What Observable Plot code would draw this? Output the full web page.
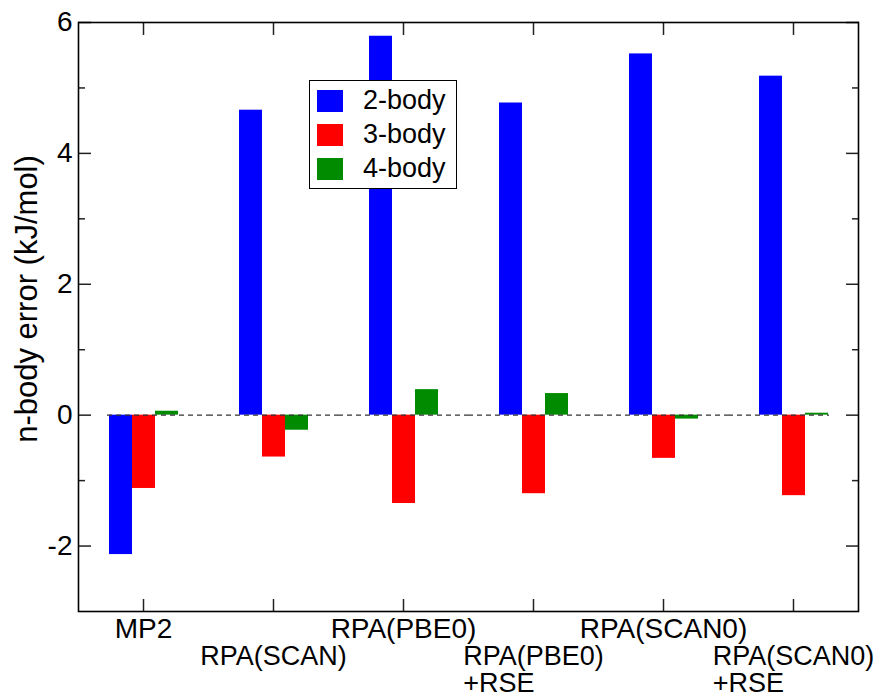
<!DOCTYPE html>
<html>
<head>
<meta charset="utf-8">
<script src="https://cdn.jsdelivr.net/npm/d3@7"></script>
<script src="https://cdn.jsdelivr.net/npm/@observablehq/plot@0.6"></script>
<style>
  html, body { margin: 0; padding: 0; background: #fff; }
  #wrap { position: relative; width: 881px; height: 697px; font-family: "Liberation Sans", Arial, Helvetica, sans-serif; }
  #wrap svg { display: block; }
  #legend { position: absolute; left: 309px; top: 80px; width: 146px; height: 107px; border: 1.5px solid #000; background: #fff; }
  #legend .row { position: absolute; left: 0; height: 22px; }
  #legend .sw { position: absolute; left: 7px; top: 0; width: 26px; height: 22px; }
  #legend .lab { position: absolute; left: 53px; top: -5px; font-size: 27px; line-height: 30px; white-space: nowrap; color: #000; }
</style>
</head>
<body>
<div id="wrap"></div>
<script>
// ---- data ----
const categories = ["MP2", "RPA(SCAN)", "RPA(PBE0)", "RPA(PBE0)\n+RSE", "RPA(SCAN0)", "RPA(SCAN0)\n+RSE"];
const series = ["2-body", "3-body", "4-body"];
const twoBody   = [-2.13, 4.66, 5.79, 4.77, 5.52, 5.18];
const threeBody = [-1.12, -0.64, -1.35, -1.20, -0.66, -1.23];
const fourBody  = [0.06, -0.23, 0.39, 0.33, -0.06, 0.03];
const seriesColors = ["#0000ff", "#ff0000", "#008b00"];
const majorTicks = [-2, 0, 2, 4, 6];
const minorTicks = [-1, 1, 3, 5];
const yLabel = "n-body error (kJ/mol)";

const valuesBySeries = [twoBody, threeBody, fourBody];
const table = [];
categories.forEach((c, i) => {
  series.forEach((s, j) => table.push({category: c, series: s, value: valuesBySeries[j][i]}));
});

const font = "'Liberation Sans', Arial, Helvetica, sans-serif";
const tickStroke = "#222";
const dash = {stroke: "#333", strokeWidth: 1.3, strokeDasharray: "5,4"};
const first = categories[0], last = categories[categories.length - 1];
const upperRow = new Set(categories.filter((d, i) => i % 2 === 0));

const chart = Plot.plot({
  width: 881,
  height: 697,
  marginLeft: 78,
  marginRight: 23,
  marginTop: 22,
  marginBottom: 86,
  style: {fontFamily: font, background: "#fff", color: "#000", overflow: "visible"},
  fx: {domain: categories, padding: 0, label: null},
  x: {domain: series, paddingInner: 0, paddingOuter: 1.21, axis: null},
  y: {domain: [-3, 6]},
  color: {domain: series, range: seriesColors},
  marks: [
    Plot.barY(table, {fx: "category", x: "series", y: "value", fill: "series"}),
    // dashed zero line, from the first bar to the last bar
    Plot.ruleY(categories.slice(1, -1), {fx: d => d, y: () => 0, ...dash}),
    Plot.ruleY([first], {fx: d => d, y: () => 0, insetLeft: 29, ...dash}),
    Plot.ruleY([last], {fx: d => d, y: () => 0, insetRight: 29, ...dash}),
    // left y axis
    Plot.axisY(majorTicks, {anchor: "left", tickSize: -13, tickFormat: () => "", label: null, stroke: tickStroke, strokeWidth: 1.5}),
    Plot.axisY(minorTicks, {anchor: "left", tickSize: -7, tickFormat: () => "", label: null, stroke: tickStroke, strokeWidth: 1.5}),
    Plot.axisY(majorTicks, {anchor: "left", tickSize: 0, tickPadding: 6, fontSize: 28, tickFormat: d => String(d), label: null}),
    Plot.axisY([], {anchor: "left", tickSize: 0, fontSize: 31, label: yLabel, labelAnchor: "center", labelOffset: 64, labelArrow: "none"}),
    // right y axis (mirror ticks)
    Plot.axisY(majorTicks, {anchor: "right", tickSize: -13, tickFormat: () => "", label: null, stroke: tickStroke, strokeWidth: 1.5}),
    Plot.axisY(minorTicks, {anchor: "right", tickSize: -7, tickFormat: () => "", label: null, stroke: tickStroke, strokeWidth: 1.5}),
    // fx ticks bottom & top
    Plot.axisFx({anchor: "bottom", tickSize: -12, tickFormat: () => "", label: null, stroke: tickStroke, strokeWidth: 1.5}),
    Plot.axisFx({anchor: "top", tickSize: -12, tickFormat: () => "", label: null, stroke: tickStroke, strokeWidth: 1.5}),
    // fx labels, staggered on two rows
    Plot.axisFx({anchor: "bottom", tickSize: 0, tickPadding: 7, fontSize: 28, label: null, tickFormat: d => upperRow.has(d) ? d : ""}),
    Plot.axisFx({anchor: "bottom", tickSize: 0, tickPadding: 34, fontSize: 27, label: null, tickFormat: d => upperRow.has(d) ? "" : d}),
    Plot.frame({facet: "super", stroke: "#000", strokeWidth: 1.6})
  ]
});

const wrap = document.getElementById("wrap");
wrap.appendChild(chart);

// left-align lines of multi-line tick labels (block centred on the tick)
chart.querySelectorAll("text").forEach(t => {
  const spans = t.querySelectorAll("tspan");
  if (spans.length > 1) {
    const w = t.getBBox().width;
    t.setAttribute("text-anchor", "start");
    spans.forEach(s => s.setAttribute("x", -w / 2));
  }
  // the y-axis title sits a little above the frame's middle in the reference
  if (t.textContent === yLabel) {
    t.setAttribute("transform", "translate(0,-18) " + (t.getAttribute("transform") || ""));
  }
});

// legend (inside plot area, as in the reference)
const legend = document.createElement("div");
legend.id = "legend";
series.forEach((s, i) => {
  const row = document.createElement("div");
  row.className = "row";
  row.style.top = (9 + i * 34) + "px";
  row.style.width = "100%";
  const sw = document.createElement("div");
  sw.className = "sw";
  sw.style.background = seriesColors[i];
  const lab = document.createElement("div");
  lab.className = "lab";
  lab.textContent = s;
  row.appendChild(sw);
  row.appendChild(lab);
  legend.appendChild(row);
});
wrap.appendChild(legend);
</script>
</body>
</html>
